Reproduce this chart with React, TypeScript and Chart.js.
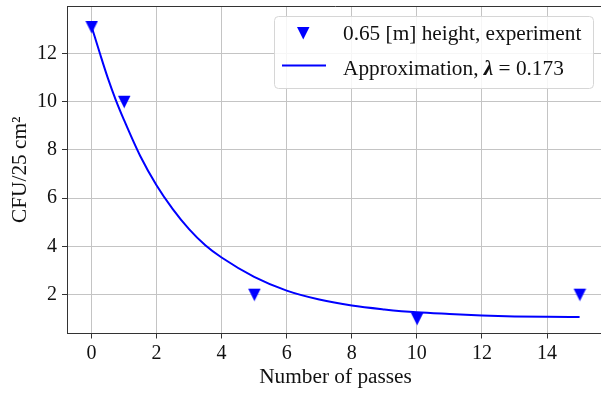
import React, { useEffect, useRef } from 'react';
import { Chart, registerables } from 'chart.js';

Chart.register(...registerables);

// ---- data ----
const passes: number[] = [0, 1, 5, 10, 15];
const cfuMeasured: number[] = [13.1, 10, 2, 1, 2];
const fitPasses: number[] = [0, 0.25, 0.5, 0.75, 1, 1.5, 2, 2.5, 3, 3.5, 4, 5, 6, 7, 8, 9, 10, 11, 12, 13, 14, 15];
const fitCfu: number[] = [13.14, 12.05, 11.0, 10.07, 9.25, 7.75, 6.54, 5.55, 4.72, 4.05, 3.54, 2.74, 2.17, 1.8, 1.55, 1.39, 1.27, 1.2, 1.14, 1.1, 1.08, 1.07];
const seriesLabels: string[] = ['0.65 [m] height, experiment', 'Approximation, λ = 0.173'];
const xTitle = 'Number of passes';
const yTitle = 'CFU/25 cm²';

const FONT = "'Liberation Serif', 'Times New Roman', serif";
const BLUE = '#0000ff';

function makeTriangle(size: number): HTMLCanvasElement {
  const c = document.createElement('canvas');
  c.width = size + 2;
  c.height = size + 2;
  const g = c.getContext('2d')!;
  g.fillStyle = BLUE;
  g.beginPath();
  g.moveTo(1, 1);
  g.lineTo(size + 1, 1);
  g.lineTo(size / 2 + 1, size + 1);
  g.closePath();
  g.fill();
  return c;
}

export default function App() {
  const ref = useRef<HTMLCanvasElement | null>(null);

  useEffect(() => {
    if (!ref.current) return;
    const tri = makeTriangle(12.5);

    const framePlugin = {
      id: 'frameLegend',
      afterDatasetsDraw(chart: any) {
        const { ctx, chartArea } = chart;
        ctx.save();
        // top spine
        ctx.strokeStyle = '#333';
        ctx.lineWidth = 1;
        ctx.beginPath();
        ctx.moveTo(chartArea.left, chartArea.top + 0.5);
        ctx.lineTo(chartArea.right, chartArea.top + 0.5);
        ctx.stroke();

        // legend box
        const bx = 274.5, by = 16.5, bw = 319, bh = 72, r = 4;
        ctx.fillStyle = 'rgba(255,255,255,0.85)';
        ctx.strokeStyle = '#d6d6d6';
        ctx.lineWidth = 1;
        ctx.beginPath();
        ctx.moveTo(bx + r, by);
        ctx.lineTo(bx + bw - r, by);
        ctx.arcTo(bx + bw, by, bx + bw, by + r, r);
        ctx.lineTo(bx + bw, by + bh - r);
        ctx.arcTo(bx + bw, by + bh, bx + bw - r, by + bh, r);
        ctx.lineTo(bx + r, by + bh);
        ctx.arcTo(bx, by + bh, bx, by + bh - r, r);
        ctx.lineTo(bx, by + r);
        ctx.arcTo(bx, by, bx + r, by, r);
        ctx.closePath();
        ctx.fill();
        ctx.stroke();

        // row 1: experiment marker
        ctx.drawImage(tri, 303 - tri.width / 2, 33 - tri.height / 2);
        ctx.fillStyle = '#111';
        ctx.textBaseline = 'alphabetic';
        ctx.textAlign = 'left';
        ctx.font = `21.3px ${FONT}`;
        ctx.fillText(chart.data.datasets[0].label, 343, 40);

        // row 2: approximation line
        ctx.strokeStyle = BLUE;
        ctx.lineWidth = 2;
        ctx.beginPath();
        ctx.moveTo(282, 65.5);
        ctx.lineTo(326, 65.5);
        ctx.stroke();
        const lab: string = chart.data.datasets[1].label;
        const i = lab.indexOf('λ');
        const pre = lab.slice(0, i);
        const post = lab.slice(i + 1);
        let x = 343;
        ctx.font = `21.3px ${FONT}`;
        ctx.fillText(pre, x, 75);
        x += ctx.measureText(pre).width;
        ctx.font = `bold italic 21.3px ${FONT}`;
        ctx.fillText('λ', x, 75);
        x += ctx.measureText('λ').width;
        ctx.font = `21.3px ${FONT}`;
        ctx.fillText(post, x, 75);
        ctx.restore();
      },
    };

    const chart = new Chart(ref.current, {
      type: 'scatter',
      data: {
        datasets: [
          {
            label: seriesLabels[0],
            data: passes.map((p, i) => ({ x: p, y: cfuMeasured[i] })),
            pointStyle: tri as any,
            backgroundColor: BLUE,
            borderColor: BLUE,
            showLine: false,
          },
          {
            label: seriesLabels[1],
            data: fitPasses.map((p, i) => ({ x: p, y: fitCfu[i] })),
            showLine: true,
            borderColor: BLUE,
            borderWidth: 2,
            pointRadius: 0,
            pointHoverRadius: 0,
            cubicInterpolationMode: 'monotone',
            fill: false,
          },
        ],
      },
      options: {
        animation: false,
        responsive: false,
        maintainAspectRatio: false,
        layout: { padding: { top: 6, right: 6, left: 0, bottom: 0 } },
        plugins: {
          legend: { display: false },
          tooltip: { enabled: false },
        },
        scales: {
          x: {
            type: 'linear',
            min: -0.75,
            max: 15.75,
            ticks: {
              stepSize: 2,
              includeBounds: false,
              color: '#111',
              padding: 3,
              font: { family: FONT, size: 20 },
            },
            grid: {
              color: '#c4c4c4',
              lineWidth: 1,
              tickLength: 5,
              tickColor: '#333',
            },
            border: { color: '#333', width: 1 },
            title: {
              display: true,
              text: xTitle,
              color: '#111',
              font: { family: FONT, size: 21.3 },
              padding: { top: 0, bottom: 4 },
            },
            afterFit(s: any) {
              s.height = 60.5;
              s.paddingLeft = 0;
              s.paddingRight = 0;
            },
          },
          y: {
            type: 'linear',
            min: 0.39,
            max: 13.97,
            ticks: {
              stepSize: 2,
              includeBounds: false,
              color: '#111',
              padding: 5,
              font: { family: FONT, size: 20 },
            },
            grid: {
              color: '#c4c4c4',
              lineWidth: 1,
              tickLength: 5,
              tickColor: '#333',
            },
            border: { color: '#333', width: 1 },
            title: {
              display: true,
              text: yTitle,
              color: '#111',
              font: { family: FONT, size: 21.3 },
              padding: { top: 8, bottom: 0 },
            },
            afterFit(s: any) {
              s.width = 67;
              s.paddingTop = 0;
              s.paddingBottom = 0;
            },
          },
        },
      },
      plugins: [framePlugin],
    });
    return () => chart.destroy();
  }, []);

  return (
    <div style={{ position: 'fixed', left: 0, top: 0, width: 601, height: 394, overflow: 'hidden', background: '#fff' }}>
      <canvas ref={ref} width={610} height={394} style={{ display: 'block', width: 610, height: 394 }} />
    </div>
  );
}
